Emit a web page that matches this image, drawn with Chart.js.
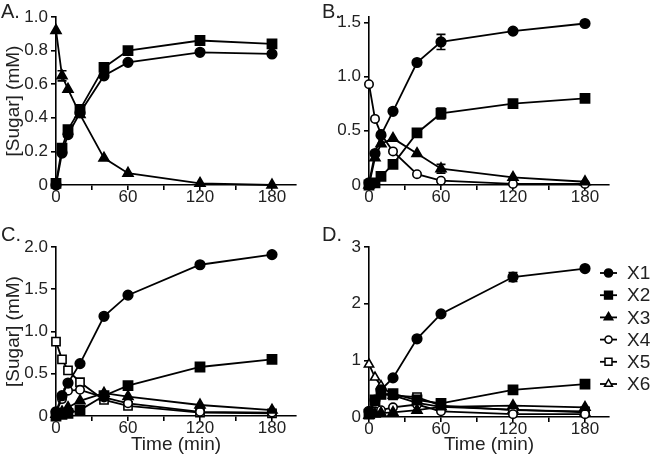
<!DOCTYPE html>
<html>
<head>
<meta charset="utf-8">
<script src="https://cdn.jsdelivr.net/npm/chart.js@4/dist/chart.umd.min.js"></script>
<style>
  body { margin: 0; background: #fff; width: 650px; height: 461px; overflow: hidden; position: relative;
         font-family: "Liberation Sans", Arial, sans-serif; }
  canvas { position: absolute; }
  .tag { position: absolute; font-size: 20px; color: #222; z-index: 2; line-height: 20px; }
</style>
</head>
<body>
<canvas id="chartA" width="320" height="215" style="left:0;top:0"></canvas>
<canvas id="chartB" width="320" height="215" style="left:313px;top:0"></canvas>
<canvas id="chartC" width="320" height="231" style="left:0;top:230px"></canvas>
<canvas id="chartD" width="337" height="231" style="left:313px;top:230px"></canvas>
<div class="tag" style="left:1px;top:1px">A.</div>
<div class="tag" style="left:322px;top:1px">B.</div>
<div class="tag" style="left:1px;top:224px">C.</div>
<div class="tag" style="left:322px;top:224px">D.</div>
<script>
// sampling times (min)
const times = [0, 5, 10, 20, 40, 60, 120, 180];

// panel A
const aX1 = [0.00, 0.19, 0.30, 0.43, 0.65, 0.73, 0.79, 0.78];
const aX2 = [0.01, 0.22, 0.33, 0.45, 0.70, 0.80, 0.86, 0.84];
const aX3 = [0.92, 0.65, 0.57, 0.42, 0.16, 0.07, 0.01, 0.00];
const aX3Err = [0, 0.03, 0, 0, 0, 0, 0, 0];

// panel B
const bX1 = [0.02, 0.29, 0.46, 0.68, 1.13, 1.32, 1.42, 1.49];
const bX2 = [0.00, 0.02, 0.08, 0.19, 0.48, 0.66, 0.75, 0.80];
const bX3 = [0.00, 0.25, 0.38, 0.43, 0.29, 0.15, 0.07, 0.03];
const bX4 = [0.93, 0.61, 0.47, 0.31, 0.10, 0.04, 0.01, 0.01];
const bX1Err = [0, 0, 0, 0, 0, 0.07, 0, 0];
const bX2Err = [0, 0, 0, 0, 0, 0.05, 0, 0];
const bX3Err = [0, 0, 0, 0, 0, 0.04, 0, 0];

// panel C
const cX1 = [0.05, 0.24, 0.39, 0.62, 1.18, 1.43, 1.79, 1.91];
const cX2 = [0.00, 0.02, 0.03, 0.07, 0.24, 0.36, 0.58, 0.67];
const cX3 = [0.02, 0.05, 0.10, 0.18, 0.27, 0.23, 0.13, 0.07];
const cX4 = [0.05, 0.20, 0.30, 0.31, 0.22, 0.15, 0.05, 0.04];
const cX5 = [0.88, 0.67, 0.54, 0.40, 0.19, 0.12, 0.04, 0.03];

// panel D
const dX1 = [0.10, 0.30, 0.48, 0.69, 1.38, 1.82, 2.47, 2.62];
const dX2 = [0.05, 0.30, 0.40, 0.41, 0.30, 0.24, 0.48, 0.58];
const dX3 = [0.03, 0.05, 0.07, 0.08, 0.12, 0.18, 0.20, 0.17];
const dX4 = [0.08, 0.10, 0.12, 0.17, 0.22, 0.10, 0.05, 0.05];
const dX5 = [0.05, 0.28, 0.40, 0.38, 0.35, 0.20, 0.12, 0.10];
const dX6 = [0.93, 0.70, 0.55, 0.38, 0.25, 0.18, 0.13, 0.08];
const dX1Err = [0, 0, 0, 0, 0, 0, 0.08, 0];

const FONT = '"Liberation Sans", Arial, sans-serif';
Chart.defaults.font.family = FONT;
Chart.defaults.color = '#222';

// marker look for each sugar
const marks = {
  X1: { pointStyle: 'circle', fill: '#000', r: 4.8 },
  X2: { pointStyle: 'rect', fill: '#000', r: 6.5 },
  X3: { pointStyle: 'triangle', fill: '#000', r: 5.8 },
  X4: { pointStyle: 'circle', fill: '#fff', r: 4.2 },
  X5: { pointStyle: 'rect', fill: '#fff', r: 5.8 },
  X6: { pointStyle: 'triangle', fill: '#fff', r: 5.3 }
};

function series(label, values, errors) {
  const m = marks[label];
  return {
    label: label,
    data: times.map((t, i) => ({ x: t, y: values[i] })),
    errors: errors,
    borderColor: '#000',
    borderWidth: 1.8,
    pointStyle: m.pointStyle,
    pointRadius: m.r,
    pointBackgroundColor: m.fill,
    pointBorderColor: '#000',
    pointBorderWidth: 1.6,
    tension: 0,
    clip: false
  };
}

// vertical error bars with caps
const errorBars = {
  id: 'errorBars',
  afterDatasetsDraw(chart) {
    const ctx = chart.ctx;
    const yScale = chart.scales.y;
    chart.data.datasets.forEach((ds, i) => {
      if (!ds.errors) return;
      chart.getDatasetMeta(i).data.forEach((pt, j) => {
        const e = ds.errors[j];
        if (!e) return;
        const v = ds.data[j].y;
        const top = yScale.getPixelForValue(v + e);
        const bot = yScale.getPixelForValue(v - e);
        ctx.save();
        ctx.strokeStyle = '#000';
        ctx.lineWidth = 1.6;
        ctx.beginPath();
        ctx.moveTo(pt.x, top); ctx.lineTo(pt.x, bot);
        ctx.moveTo(pt.x - 4.5, top); ctx.lineTo(pt.x + 4.5, top);
        ctx.moveTo(pt.x - 4.5, bot); ctx.lineTo(pt.x + 4.5, bot);
        ctx.stroke();
        ctx.restore();
      });
    });
  }
};

// legend with a short line through each marker
const sideLegend = {
  id: 'sideLegend',
  afterDraw(chart, args, opts) {
    if (!opts.show) return;
    const ctx = chart.ctx;
    chart.data.datasets.forEach((ds, i) => {
      const y = opts.top + i * opts.spacing;
      ctx.save();
      ctx.strokeStyle = '#000';
      ctx.lineWidth = 1.8;
      ctx.beginPath();
      ctx.moveTo(opts.left, y);
      ctx.lineTo(opts.left + 17, y);
      ctx.stroke();
      ctx.fillStyle = ds.pointBackgroundColor;
      ctx.lineWidth = 1.5;
      Chart.helpers.drawPoint(ctx, {
        pointStyle: ds.pointStyle, radius: ds.pointRadius * 0.85, borderWidth: 1.5, rotation: 0
      }, opts.left + 8.5, y);
      ctx.fillStyle = '#222';
      ctx.font = '19px ' + FONT;
      ctx.textBaseline = 'middle';
      ctx.fillText(ds.label, opts.left + 27, y + 1);
      ctx.restore();
    });
  }
};

function makeChart(id, datasets, cfg) {
  new Chart(document.getElementById(id), {
    type: 'line',
    data: { datasets: datasets },
    plugins: [errorBars, sideLegend],
    options: {
      responsive: false,
      animation: false,
      layout: { padding: { top: 17, right: cfg.right, left: 0, bottom: 0 } },
      plugins: {
        legend: { display: false },
        tooltip: { enabled: false },
        sideLegend: cfg.legend || { show: false }
      },
      scales: {
        x: {
          type: 'linear',
          min: 0,
          max: 200,
          ticks: {
            stepSize: 30,
            includeBounds: false,
            autoSkip: false,
            maxRotation: 0,
            padding: -3,
            color: '#222',
            font: { size: 17 },
            callback: v => (v % 60 === 0 ? String(v) : '')
          },
          grid: { drawOnChartArea: false, tickLength: 5, color: '#000', lineWidth: 1.6 },
          border: { color: '#000', width: 1.6 },
          title: {
            display: !!cfg.xTitle,
            text: cfg.xTitle || '',
            color: '#222',
            font: { size: 19 },
            padding: { top: 0, bottom: 5 }
          },
          afterFit: s => { s.height = cfg.xHeight; }
        },
        y: {
          min: 0,
          max: cfg.yMax,
          ticks: {
            stepSize: cfg.yStep,
            includeBounds: false,
            padding: 3,
            color: '#222',
            font: { size: 17 },
            callback: cfg.yFmt
          },
          grid: { drawOnChartArea: false, tickLength: 5, color: '#000', lineWidth: 1.6 },
          border: { color: '#000', width: 1.6 },
          title: {
            display: !!cfg.yTitle,
            text: cfg.yTitle || '',
            color: '#222',
            font: { size: 19 },
            padding: { top: 2, bottom: 0 }
          },
          afterFit: s => { s.width = 56; }
        }
      }
    }
  });
}

const oneDecimal = v => (v === 0 ? '0' : v.toFixed(1));
const whole = v => String(Math.round(v));

makeChart('chartA', [
  series('X1', aX1),
  series('X2', aX2),
  series('X3', aX3, aX3Err)
], { yMax: 1.0, yStep: 0.2, yFmt: oneDecimal, yTitle: '[Sugar] (mM)', xHeight: 30, right: 24 });

makeChart('chartB', [
  series('X1', bX1, bX1Err),
  series('X2', bX2, bX2Err),
  series('X3', bX3, bX3Err),
  series('X4', bX4)
], { yMax: 1.55, yStep: 0.5, yFmt: oneDecimal, xHeight: 30, right: 24 });

makeChart('chartC', [
  series('X1', cX1),
  series('X2', cX2),
  series('X3', cX3),
  series('X4', cX4),
  series('X5', cX5)
], { yMax: 2.0, yStep: 0.5, yFmt: oneDecimal, yTitle: '[Sugar] (mM)', xTitle: 'Time (min)', xHeight: 45, right: 24 });

makeChart('chartD', [
  series('X1', dX1, dX1Err),
  series('X2', dX2),
  series('X3', dX3),
  series('X4', dX4),
  series('X5', dX5),
  series('X6', dX6)
], { yMax: 3, yStep: 1, yFmt: whole, xTitle: 'Time (min)', xHeight: 44, right: 41,
     legend: { show: true, left: 287, top: 43, spacing: 22.2 } });
</script>
</body>
</html>
